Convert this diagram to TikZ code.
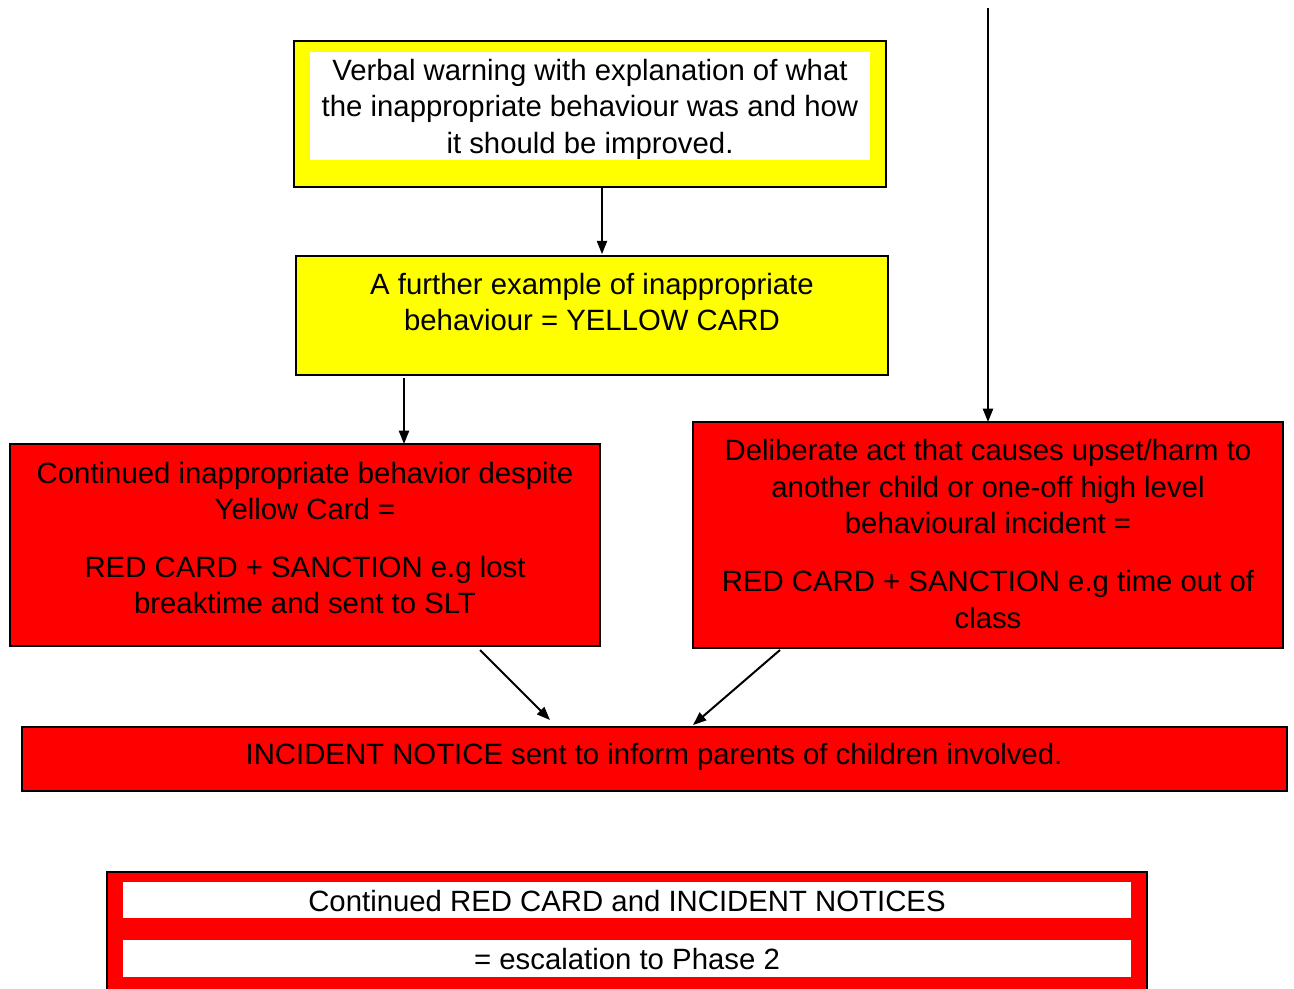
\documentclass[tikz,border=0pt]{standalone}
\usepackage{fontspec}
\setmainfont{Liberation Sans}
\usetikzlibrary{arrows.meta,fit}
\definecolor{cardyellow}{HTML}{FFFF00}
\definecolor{cardred}{HTML}{FF0000}
\begin{document}
\begin{tikzpicture}[x=0.375pt,y=-0.375pt,
  panel/.style={draw=black,line width=0.75pt,inner sep=0pt,outer sep=0pt},
  ybox/.style={panel,fill=cardyellow},
  rbox/.style={panel,fill=cardred},
  wstrip/.style={fill=white,draw=none,inner sep=0pt,outer sep=0pt},
  txt/.style={align=center,inner sep=0pt,font=\fontsize{11pt}{13.7pt}\selectfont},
  arr/.style={line width=0.75pt,-{Triangle[length=5pt,width=3.8pt]}}]
\useasboundingbox (0,0) rectangle (1294,989);
\clip (0,0) rectangle (1294,989);
\fill[white] (0,0) rectangle (1294,989);
% boxes
\node[ybox,fit={(294,41) (886,187)}] (b1) {};
\node[wstrip,fit={(310,52) (870,160)}] (b1w) {};
\node[ybox,fit={(296,256) (888,375)}] (b2) {};
\node[rbox,fit={(10,444) (600,646)}] (b3) {};
\node[rbox,fit={(693,422) (1283,648)}] (b4) {};
\node[rbox,fit={(22,727) (1287,791)}] (b5) {};
\node[rbox,fit={(107,872) (1147,1010)}] (b6) {};
\node[wstrip,fit={(123,882) (1131,918)}] (s1) {};
\node[wstrip,fit={(123,940) (1131,977)}] (s2) {};
% texts
\node[txt] (t1) at (590,109) {Verbal warning with explanation of what\\the inappropriate behaviour was and how\\it should be improved.};
\node[txt] (t2) at (592,302) {A further example of inappropriate\\behaviour = YELLOW CARD};
\node[txt] (t3) at (305,538) {Continued inappropriate behavior despite\\Yellow Card =\\[8pt]RED CARD + SANCTION e.g lost\\breaktime and sent to SLT};
\node[txt] (t4) at (988,534) {Deliberate act that causes upset/harm to\\another child or one-off high level\\behavioural incident =\\[8pt]RED CARD + SANCTION e.g time out of\\class};
\node[txt] (t5) at (654,757) {INCIDENT NOTICE sent to inform parents of children involved.};
\node[txt] (t6) at (627,901) {Continued RED CARD and INCIDENT NOTICES};
\node[txt] (t7) at (627,959) {= escalation to Phase 2};
% connector helpers
\coordinate (a1x) at (602,0);
\coordinate (a2x) at (404,0);
\coordinate (top) at (988,8);
\coordinate (a3s) at (480,650);
\coordinate (a3e) at (550,720);
\coordinate (a4s) at (780,650);
\coordinate (a4e) at (693,725);
% connectors
\draw[arr] (b1.south -| a1x) -- ([yshift=0.7pt]b2.north -| a1x);
\draw[arr] ([yshift=-1.1pt]b2.south -| a2x) -- (b3.north -| a2x);
\draw[arr] (top) -- (b4.north);
\draw[arr] (a3s) -- (a3e);
\draw[arr] (a4s) -- (a4e);
\end{tikzpicture}
\end{document}
